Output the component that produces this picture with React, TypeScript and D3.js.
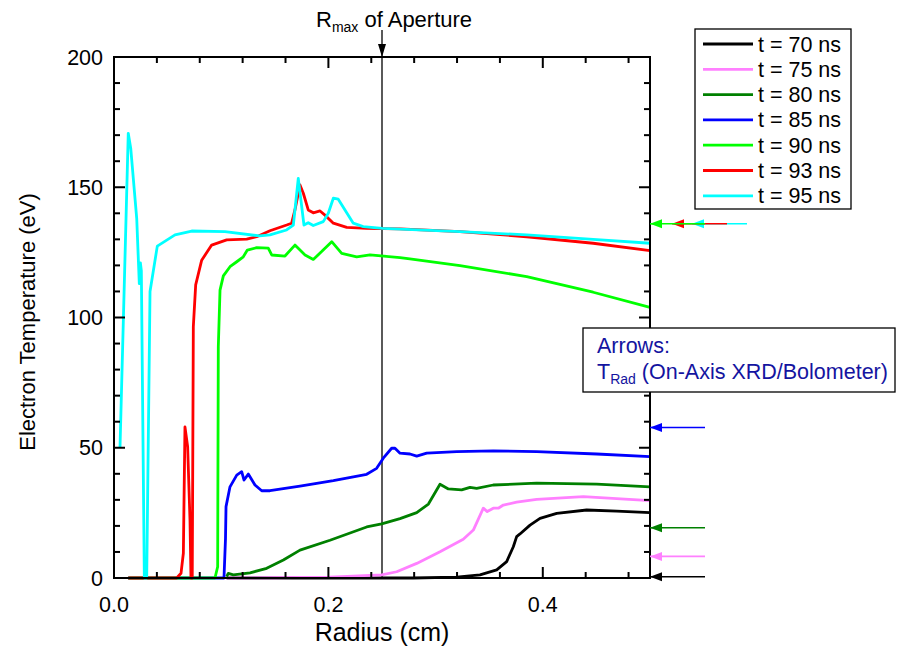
import * as d3 from 'd3'
import React from 'react'

// radius (cm), electron temperature (eV)
const t70: [number, number][] = [
  [0.1051, 0], [0.2792, 0], [0.3197, 0.3], [0.3414, 1.2], [0.357, 3.1], [0.3663, 6.3],
  [0.3725, 12], [0.3756, 15.9], [0.3787, 16.9], [0.3881, 20.3], [0.3974, 22.9],
  [0.413, 24.8], [0.4409, 26.1], [0.4689, 25.7], [0.5, 25.1],
]
const t75: [number, number][] = [
  [0.1051, 0], [0.15, 0.1], [0.2015, 0.3], [0.2497, 1.2], [0.2637, 2.4], [0.2824, 5.6],
  [0.3041, 10.1], [0.3258, 14.9], [0.3352, 18.4], [0.3445, 26.8], [0.3482, 25.5],
  [0.3538, 26.8], [0.3585, 26.8], [0.3632, 28], [0.3756, 29.1], [0.3943, 30.2],
  [0.4378, 31.2], [0.5, 29.7],
]
const t80: [number, number][] = [
  [0.1051, 0.5], [0.1066, 1.8], [0.1113, 1.2], [0.1269, 2], [0.1424, 3.7], [0.158, 6.9],
  [0.1735, 10.7], [0.2015, 14.5], [0.2357, 19.6], [0.2497, 20.8], [0.2668, 22.8],
  [0.2824, 25.1], [0.2933, 28.4], [0.3041, 36], [0.3119, 34.2], [0.3243, 33.8],
  [0.3321, 34.8], [0.3383, 34.4], [0.3538, 35.7], [0.3943, 36.4], [0.4503, 36], [0.5, 35],
]
const t85: [number, number][] = [
  [0.0133, 0], [0.1026, 0], [0.104, 15], [0.1045, 27.4], [0.1082, 35], [0.1145, 39.5],
  [0.1191, 40.8], [0.1213, 37.6], [0.1253, 39.9], [0.1315, 35.7], [0.1378, 33.5],
  [0.1455, 33.5], [0.1735, 35.3], [0.2046, 37.4], [0.2357, 39.8], [0.245, 42.1],
  [0.2512, 46], [0.259, 49.8], [0.2621, 49.8], [0.2668, 47.9], [0.2761, 47.6],
  [0.2824, 46.8], [0.2917, 47.9], [0.3197, 48.5], [0.3538, 48.8], [0.3943, 48.5],
  [0.4503, 47.6], [0.5, 46.6],
]
const t90: [number, number][] = [
  [0.0133, 0], [0.0942, 0], [0.0967, 4.3], [0.0973, 88.8], [0.0989, 110.5], [0.102, 116],
  [0.1082, 119.5], [0.1145, 121.4], [0.1206, 123.3], [0.1244, 125.9], [0.1331, 126.8],
  [0.1439, 126.6], [0.1471, 124], [0.1595, 123.6], [0.1688, 127.8], [0.1782, 124],
  [0.1859, 122.3], [0.1937, 125.3], [0.2031, 129.1], [0.2124, 124.6], [0.2264, 123.3],
  [0.2388, 124], [0.2668, 123], [0.276, 122.5], [0.3228, 119.9], [0.385, 115.7],
  [0.447, 109.7], [0.5, 103.9],
]
const t93: [number, number][] = [
  [0.0133, 0], [0.0585, 0], [0.0625, 1.8], [0.0647, 9.5], [0.0662, 58], [0.0687, 50.4],
  [0.0709, 22], [0.0718, 0], [0.073, 0], [0.074, 96.5], [0.0762, 112.5], [0.0818, 122],
  [0.0911, 127.8], [0.1051, 129.8], [0.1238, 130.1], [0.1331, 131], [0.1455, 133.3],
  [0.1611, 135.5], [0.1657, 136.2], [0.1688, 141.3], [0.1735, 150.9], [0.1766, 147.7],
  [0.1812, 141.3], [0.1859, 140.2], [0.1922, 140.9], [0.1968, 139.3], [0.2046, 136.2],
  [0.2171, 134.6], [0.2357, 134.2], [0.2668, 134], [0.3228, 133], [0.385, 131],
  [0.447, 128.5], [0.5, 125.7],
]
const t95: [number, number][] = [
  [0.0056, 50], [0.0133, 170.7], [0.0156, 165], [0.0212, 138], [0.0236, 113],
  [0.0246, 121], [0.0255, 118], [0.0283, 0], [0.0305, 0], [0.0336, 110], [0.0404, 127.4],
  [0.0569, 131.7], [0.0725, 133.2], [0.1035, 133], [0.136, 131.3], [0.1455, 131.7],
  [0.161, 133.6], [0.1673, 135.5], [0.1719, 153.4], [0.1772, 135.5], [0.1812, 136.4],
  [0.1859, 135.3], [0.1952, 136.8], [0.1999, 140], [0.2046, 145.8], [0.2092, 145.4],
  [0.2232, 136.2], [0.2325, 134.9], [0.2503, 134.2], [0.3228, 133], [0.385, 131.7],
  [0.447, 130], [0.5, 128.5],
]

const seriesNames = ['t = 70 ns', 't = 75 ns', 't = 80 ns', 't = 85 ns', 't = 90 ns', 't = 93 ns', 't = 95 ns']
const seriesData = [t70, t75, t80, t85, t90, t93, t95]
const colors = ['#000000', '#ff80ff', '#008000', '#0000ff', '#00ff00', '#ff0000', '#00ffff']

// radiation temperature arrows (eV), same order as series
const tRad = [0.5, 8.3, 19.3, 57.8, 136, 136, 136]

const xMajor = [0, 0.2, 0.4]
const yMajor = [0, 50, 100, 150, 200]
const rMax = 0.25

const font = '"Liberation Sans", Arial, sans-serif'

export default function App() {
  const x = d3.scaleLinear().domain([0, 0.5]).range([114, 650])
  const y = d3.scaleLinear().domain([0, 200]).range([578, 57])
  const line = d3
    .line<[number, number]>()
    .x((d) => x(d[0]))
    .y((d) => y(d[1]))

  const xMinor = d3.range(0, 0.5001, 0.04).filter((v) => !xMajor.some((m) => Math.abs(m - v) < 1e-6))
  const yMinor = d3.range(0, 201, 10).filter((v) => v % 50 !== 0)

  const [x0, x1] = x.range()
  const [y0, y1] = y.range()

  // arrows for the three overlapping ones are staggered to the right
  const arrowShift = [0, 0, 0, 0, 0, 22, 42]
  const drawOrder = [6, 5, 4, 3, 2, 1, 0]

  return (
    <svg
      width={898}
      height={655}
      style={{ position: 'absolute', left: 0, top: 0, background: '#fff' }}
      fontFamily={font}
    >
      {/* R max line */}
      <line x1={x(rMax)} x2={x(rMax)} y1={30} y2={y0} stroke="#000" strokeWidth={1.3} />
      <path d={`M${x(rMax)},${y1} l-4,-13 l8,0 Z`} fill="#000" />
      <text x={316} y={27} fontSize={22}>
        R<tspan fontSize={14} dy={5}>max</tspan>
        <tspan dy={-5}> of Aperture</tspan>
      </text>

      {/* curves */}
      {seriesData.map((d, i) => (
        <path
          key={i}
          d={line(d) || ''}
          fill="none"
          stroke={colors[i]}
          strokeWidth={2.8}
          strokeLinejoin="round"
        />
      ))}

      {/* frame */}
      <rect x={x0} y={y1} width={x1 - x0} height={y0 - y1} fill="none" stroke="#000" strokeWidth={2} />

      {/* x ticks */}
      {xMajor.map((v) => (
        <g key={'xm' + v}>
          <line x1={x(v)} x2={x(v)} y1={y0} y2={y0 - 11} stroke="#000" strokeWidth={2} />
          <line x1={x(v)} x2={x(v)} y1={y1} y2={y1 + 11} stroke="#000" strokeWidth={2} />
          <text x={x(v)} y={612} fontSize={21.5} textAnchor="middle">
            {v.toFixed(1)}
          </text>
        </g>
      ))}
      {xMinor.map((v) => (
        <g key={'xn' + v}>
          <line x1={x(v)} x2={x(v)} y1={y0} y2={y0 - 6} stroke="#000" strokeWidth={2} />
          <line x1={x(v)} x2={x(v)} y1={y1} y2={y1 + 6} stroke="#000" strokeWidth={2} />
        </g>
      ))}

      {/* y ticks */}
      {yMajor.map((v) => (
        <g key={'ym' + v}>
          <line x1={x0} x2={x0 + 11} y1={y(v)} y2={y(v)} stroke="#000" strokeWidth={2} />
          <line x1={x1} x2={x1 - 11} y1={y(v)} y2={y(v)} stroke="#000" strokeWidth={2} />
          <text x={103} y={y(v) + 7.5} fontSize={21.5} textAnchor="end">
            {v}
          </text>
        </g>
      ))}
      {yMinor.map((v) => (
        <g key={'yn' + v}>
          <line x1={x0} x2={x0 + 6} y1={y(v)} y2={y(v)} stroke="#000" strokeWidth={2} />
          <line x1={x1} x2={x1 - 6} y1={y(v)} y2={y(v)} stroke="#000" strokeWidth={2} />
        </g>
      ))}

      {/* axis titles */}
      <text x={382} y={641} fontSize={25} textAnchor="middle">
        Radius (cm)
      </text>
      <text transform="translate(35,322) rotate(-90)" fontSize={22} textAnchor="middle">
        Electron Temperature (eV)
      </text>

      {/* T_rad arrows */}
      {drawOrder.map((i) => {
        const ax = x1 + arrowShift[i]
        const ay = y(tRad[i])
        return (
          <g key={'ar' + i}>
            <line x1={ax} x2={ax + 55} y1={ay} y2={ay} stroke={colors[i]} strokeWidth={1.6} />
            <path d={`M${ax},${ay} l12,-4.5 l0,9 Z`} fill={colors[i]} />
          </g>
        )
      })}

      {/* legend */}
      <rect x={695} y={29} width={156} height={180} fill="#fff" stroke="#000" strokeWidth={1.3} />
      {seriesNames.map((n, i) => {
        const ly = 44 + i * 25.3
        return (
          <g key={'lg' + i}>
            <line x1={703} x2={753} y1={ly} y2={ly} stroke={colors[i]} strokeWidth={2.8} />
            <text x={758} y={ly + 7.5} fontSize={21.5}>
              {n}
            </text>
          </g>
        )
      })}

      {/* arrows note */}
      <rect x={583} y={328} width={312} height={64} fill="#fff" stroke="#000" strokeWidth={1.3} />
      <text x={597} y={353} fontSize={21.5} fill="#1414a0">
        Arrows:
      </text>
      <text x={597} y={379} fontSize={21.5} fill="#1414a0">
        T<tspan fontSize={14} dy={5}>Rad</tspan>
        <tspan dy={-5}> (On-Axis XRD/Bolometer)</tspan>
      </text>
    </svg>
  )
}
